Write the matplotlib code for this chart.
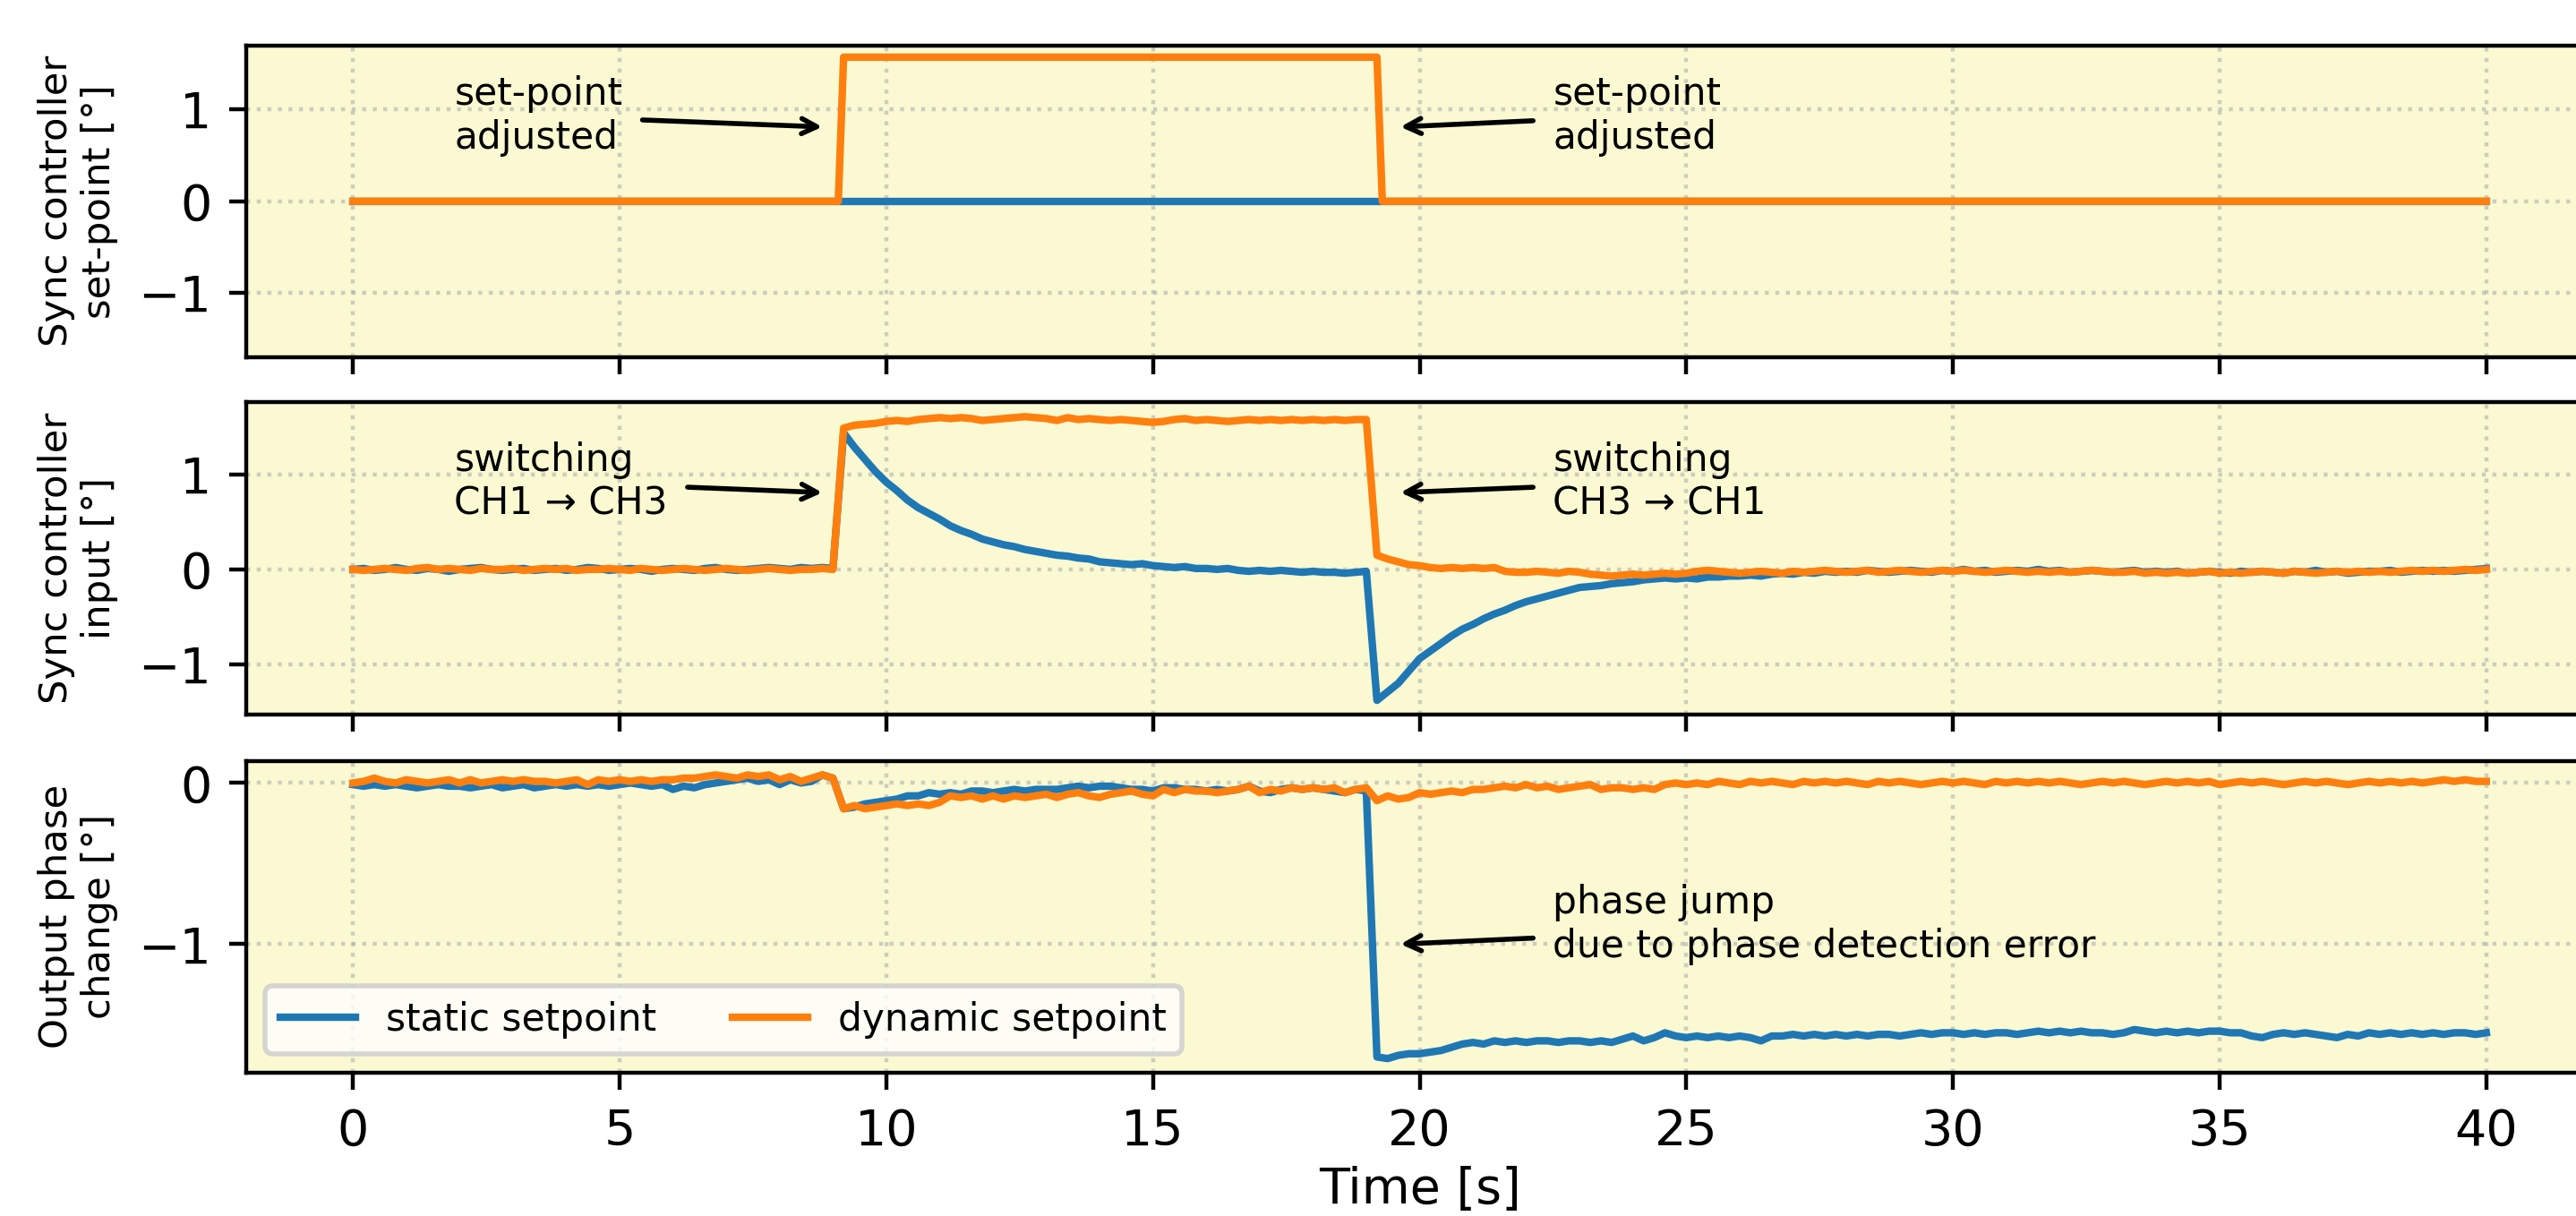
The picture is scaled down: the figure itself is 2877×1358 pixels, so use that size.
import numpy as np
import matplotlib.pyplot as plt

# sample grid of the recorded traces (0.2 s)
time = np.linspace(0, 40, 201)

# set-point step (panel 1)
sp_time = [0, 9.1, 9.2, 19.2, 19.3, 40]
sp_static = [0, 0, 0, 0, 0, 0]
sp_dynamic = [0, 0, 1.57, 1.57, 0, 0]

# sync controller input (panel 2)
input_static = [
    0.00, 0.01, -0.01, 0.00, 0.02, 0.00, -0.01, 0.01, 0.00, -0.02,
    0.00, 0.01, 0.02, 0.00, -0.01, 0.00, 0.01, -0.01, 0.00, 0.01,
    -0.01, 0.00, 0.02, 0.01, -0.01, 0.00, 0.01, 0.00, -0.02, 0.00,
    0.01, 0.00, -0.01, 0.01, 0.02, 0.00, -0.01, 0.00, 0.01, 0.02,
    0.01, 0.00, 0.02, 0.01, 0.02, 0.01, 1.44, 1.29, 1.16, 1.03,
    0.92, 0.83, 0.73, 0.65, 0.59, 0.53, 0.46, 0.41, 0.37, 0.32,
    0.29, 0.26, 0.24, 0.21, 0.19, 0.17, 0.15, 0.14, 0.12, 0.11,
    0.08, 0.07, 0.06, 0.05, 0.06, 0.04, 0.03, 0.02, 0.03, 0.01,
    0.01, 0.00, 0.01, -0.01, -0.02, -0.01, -0.02, -0.01, -0.02, -0.03,
    -0.02, -0.03, -0.03, -0.04, -0.03, -0.02, -1.38, -1.29, -1.20, -1.07,
    -0.94, -0.86, -0.78, -0.70, -0.63, -0.58, -0.52, -0.47, -0.43, -0.38,
    -0.34, -0.31, -0.28, -0.25, -0.22, -0.19, -0.18, -0.17, -0.15, -0.14,
    -0.13, -0.11, -0.10, -0.09, -0.10, -0.09, -0.10, -0.08, -0.08, -0.07,
    -0.07, -0.06, -0.07, -0.05, -0.04, -0.05, -0.03, -0.04, -0.02, -0.03,
    -0.02, -0.03, -0.01, -0.02, -0.03, -0.02, -0.01, -0.02, -0.03, -0.01,
    -0.02, 0.00, -0.02, -0.01, -0.03, -0.02, -0.01, -0.02, 0.00, -0.02,
    -0.01, -0.03, -0.02, -0.01, -0.02, -0.03, -0.02, -0.01, -0.03, -0.02,
    -0.03, -0.02, -0.04, -0.03, -0.02, -0.03, -0.04, -0.02, -0.03, -0.02,
    -0.03, -0.04, -0.02, -0.03, -0.01, -0.03, -0.02, -0.04, -0.03, -0.02,
    -0.02, -0.01, -0.03, -0.02, -0.01, -0.02, -0.01, -0.02, -0.01, 0.00,
    0.01,
]
input_dynamic = [
    0.00, -0.01, 0.00, 0.01, 0.00, -0.01, 0.01, 0.02, 0.00, 0.01,
    0.00, -0.01, 0.01, 0.00, 0.00, 0.01, -0.01, 0.00, 0.01, 0.00,
    0.01, -0.01, 0.00, 0.00, 0.01, 0.00, -0.01, 0.01, 0.00, -0.01,
    0.00, 0.01, 0.00, -0.01, 0.00, 0.01, 0.00, -0.01, 0.00, 0.01,
    0.00, -0.01, 0.00, 0.00, 0.01, 0.00, 1.49, 1.52, 1.53, 1.54,
    1.56, 1.57, 1.56, 1.58, 1.59, 1.60, 1.59, 1.60, 1.59, 1.57,
    1.58, 1.59, 1.60, 1.61, 1.60, 1.59, 1.57, 1.60, 1.58, 1.59,
    1.58, 1.57, 1.58, 1.57, 1.56, 1.55, 1.56, 1.58, 1.59, 1.57,
    1.58, 1.57, 1.56, 1.57, 1.58, 1.57, 1.58, 1.57, 1.58, 1.57,
    1.58, 1.57, 1.58, 1.57, 1.58, 1.58, 0.15, 0.11, 0.08, 0.05,
    0.04, 0.02, 0.01, 0.02, 0.01, 0.02, 0.01, 0.02, -0.02, -0.03,
    -0.03, -0.02, -0.03, -0.04, -0.02, -0.03, -0.05, -0.06, -0.07, -0.06,
    -0.05, -0.06, -0.05, -0.04, -0.05, -0.04, -0.02, -0.01, -0.02, -0.03,
    -0.04, -0.03, -0.02, -0.03, -0.04, -0.02, -0.03, -0.02, -0.01, -0.02,
    -0.03, -0.02, -0.01, -0.03, -0.02, -0.01, -0.02, -0.03, -0.02, -0.01,
    -0.02, -0.01, -0.02, -0.03, -0.02, -0.01, -0.02, -0.03, -0.02, -0.03,
    -0.02, -0.03, -0.02, -0.01, -0.02, -0.03, -0.03, -0.02, -0.04, -0.03,
    -0.04, -0.03, -0.04, -0.03, -0.02, -0.04, -0.03, -0.04, -0.03, -0.02,
    -0.03, -0.04, -0.02, -0.03, -0.04, -0.03, -0.02, -0.03, -0.02, -0.03,
    -0.02, -0.03, -0.02, -0.01, -0.02, -0.01, -0.02, -0.01, 0.00, -0.01,
    0.00,
]

# output phase change (panel 3)
output_static = [
    -0.01, -0.02, -0.01, -0.02, -0.01, -0.02, -0.03, -0.02, -0.01, -0.02,
    -0.02, -0.03, -0.02, -0.01, -0.03, -0.02, -0.01, -0.03, -0.02, -0.01,
    -0.02, -0.01, -0.02, -0.01, -0.02, -0.01, 0.00, -0.01, -0.02, -0.01,
    -0.04, -0.02, -0.03, -0.01, 0.00, 0.01, 0.02, 0.03, 0.01, 0.02,
    -0.01, 0.02, 0.00, 0.01, 0.05, 0.03, -0.16, -0.15, -0.13, -0.12,
    -0.11, -0.10, -0.08, -0.08, -0.06, -0.07, -0.06, -0.07, -0.05, -0.05,
    -0.06, -0.05, -0.04, -0.05, -0.04, -0.04, -0.04, -0.03, -0.02, -0.03,
    -0.02, -0.02, -0.03, -0.04, -0.04, -0.05, -0.03, -0.03, -0.04, -0.04,
    -0.05, -0.04, -0.05, -0.04, -0.02, -0.05, -0.06, -0.04, -0.03, -0.04,
    -0.03, -0.04, -0.05, -0.06, -0.04, -0.05, -1.70, -1.71, -1.69, -1.68,
    -1.68, -1.67, -1.66, -1.64, -1.62, -1.61, -1.62, -1.60, -1.61, -1.60,
    -1.61, -1.60, -1.60, -1.61, -1.60, -1.60, -1.61, -1.60, -1.61, -1.59,
    -1.57, -1.60, -1.58, -1.55, -1.57, -1.58, -1.57, -1.58, -1.57, -1.58,
    -1.57, -1.58, -1.60, -1.57, -1.57, -1.56, -1.57, -1.56, -1.57, -1.56,
    -1.57, -1.56, -1.57, -1.56, -1.56, -1.57, -1.56, -1.55, -1.56, -1.55,
    -1.55, -1.56, -1.55, -1.56, -1.55, -1.55, -1.56, -1.55, -1.54, -1.55,
    -1.54, -1.55, -1.54, -1.55, -1.55, -1.56, -1.55, -1.53, -1.54, -1.55,
    -1.54, -1.55, -1.54, -1.55, -1.54, -1.54, -1.55, -1.55, -1.57, -1.58,
    -1.56, -1.55, -1.56, -1.55, -1.56, -1.57, -1.58, -1.56, -1.57, -1.55,
    -1.56, -1.55, -1.56, -1.55, -1.56, -1.55, -1.56, -1.55, -1.55, -1.56,
    -1.55,
]
output_dynamic = [
    0.00, 0.01, 0.03, 0.01, 0.00, 0.02, 0.01, 0.00, 0.01, 0.02,
    0.00, 0.02, 0.00, 0.01, 0.02, 0.01, 0.02, 0.01, 0.01, 0.00,
    0.01, 0.02, -0.01, 0.02, 0.01, 0.02, 0.01, 0.02, 0.01, 0.02,
    0.02, 0.03, 0.03, 0.04, 0.05, 0.04, 0.03, 0.05, 0.04, 0.05,
    0.02, 0.04, 0.01, 0.03, 0.05, 0.03, -0.16, -0.14, -0.16, -0.15,
    -0.14, -0.13, -0.14, -0.13, -0.14, -0.12, -0.08, -0.09, -0.08, -0.10,
    -0.08, -0.10, -0.08, -0.09, -0.08, -0.07, -0.09, -0.07, -0.06, -0.08,
    -0.09, -0.07, -0.06, -0.05, -0.07, -0.08, -0.04, -0.06, -0.04, -0.05,
    -0.05, -0.06, -0.05, -0.04, -0.02, -0.06, -0.04, -0.05, -0.03, -0.04,
    -0.03, -0.04, -0.03, -0.06, -0.04, -0.03, -0.11, -0.08, -0.10, -0.09,
    -0.06, -0.07, -0.06, -0.05, -0.06, -0.04, -0.04, -0.03, -0.02, -0.03,
    -0.01, -0.03, -0.02, -0.04, -0.03, -0.02, -0.01, -0.04, -0.03, -0.03,
    -0.04, -0.03, -0.04, -0.01, 0.00, -0.01, 0.00, -0.01, 0.01, 0.00,
    -0.01, 0.01, 0.00, 0.01, 0.00, -0.01, 0.01, 0.00, 0.01, 0.00,
    0.01, 0.00, -0.01, 0.01, 0.00, 0.01, 0.00, -0.01, 0.00, 0.01,
    0.00, 0.01, 0.00, -0.01, 0.01, 0.00, 0.01, 0.00, 0.01, 0.00,
    0.01, 0.00, -0.01, 0.00, 0.01, 0.00, 0.01, 0.00, -0.01, 0.00,
    0.01, 0.00, 0.01, 0.00, 0.01, -0.01, 0.00, 0.01, 0.00, 0.01,
    0.00, -0.01, 0.00, 0.01, 0.00, 0.01, 0.00, -0.01, 0.00, 0.01,
    0.00, 0.01, 0.00, 0.01, 0.00, 0.01, 0.02, 0.01, 0.02, 0.01,
    0.01,
]

labels = ["static setpoint", "dynamic setpoint"]
ylabels = ["Sync controller\nset-point [°]",
           "Sync controller\ninput [°]",
           "Output phase\nchange [°]"]

bg = "#faf9d2"
small = 7.6

fig, axes = plt.subplots(3, 1, sharex=True, figsize=(2877 / 400, 1358 / 400))
left, width, height = 0.0956, 0.911, 0.2566
for ax, bottom in zip(axes, [0.7062, 0.4124, 0.1178]):
    ax.set_position([left, bottom, width, height])

ax1, ax2, ax3 = axes

ax1.plot(sp_time, sp_static, label=labels[0])
ax1.plot(sp_time, sp_dynamic, label=labels[1])
ax1.set_ylim(-1.7, 1.7)

ax2.plot(time, input_static, label=labels[0])
ax2.plot(time, input_dynamic, label=labels[1])

ax3.plot(time, output_static, label=labels[0])
ax3.plot(time, output_dynamic, label=labels[1])

for ax, yl in zip(axes, ylabels):
    ax.set_facecolor(bg)
    ax.grid(True, ls=":", color="#b0b0b0", alpha=0.6)
    ax.set_ylabel(yl, fontsize=7.8)
    ax.tick_params(labelsize=10)
ax1.set_yticks([-1, 0, 1])
ax2.set_yticks([-1, 0, 1])
ax3.set_yticks([-1, 0])
ax3.set_xlim(-2, 42)
ax3.set_xticks(range(0, 41, 5))
ax3.set_xlabel("Time [s]", fontsize=10, labelpad=2)

arrow = dict(arrowstyle="->", color="black", lw=1, shrinkB=0)
ax1.annotate("set-point\nadjusted", xy=(8.8, 0.81), xytext=(1.9, 0.93),
             fontsize=small, ha="left", va="center", arrowprops=arrow)
ax1.annotate("set-point\nadjusted", xy=(19.64, 0.81), xytext=(22.5, 0.93),
             fontsize=small, ha="left", va="center", arrowprops=arrow)
ax2.annotate("switching\nCH1 → CH3", xy=(8.8, 0.81), xytext=(1.9, 0.92),
             fontsize=small, ha="left", va="center", arrowprops=arrow)
ax2.annotate("switching\nCH3 → CH1", xy=(19.64, 0.81), xytext=(22.5, 0.92),
             fontsize=small, ha="left", va="center", arrowprops=arrow)
ax3.annotate("phase jump\ndue to phase detection error", xy=(19.64, -1.0),
             xytext=(22.5, -0.88), fontsize=small, ha="left", va="center",
             arrowprops=arrow)

ax3.legend(loc="lower left", ncol=2, fontsize=small)

fig.align_ylabels(axes)
fig.savefig("out.png", dpi=400)
